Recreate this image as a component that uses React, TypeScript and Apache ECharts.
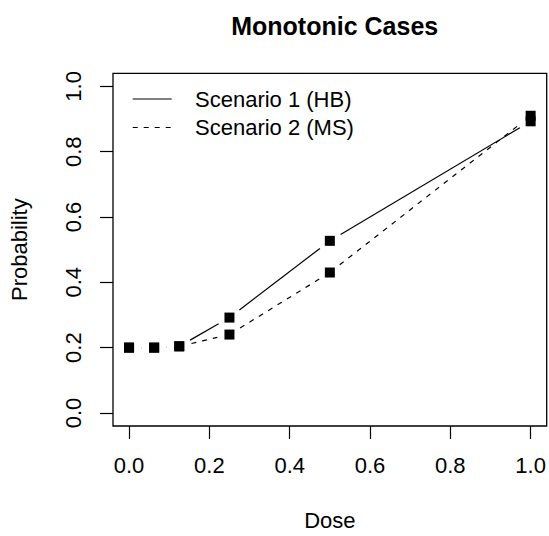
import React, { useEffect, useRef } from "react";
import * as echarts from "echarts";

const dose = [0, 0.0625, 0.125, 0.25, 0.5, 1.0];
const hbValues = [0.2, 0.2, 0.204, 0.292, 0.527, 0.893];
const msValues = [0.2, 0.2, 0.204, 0.24, 0.43, 0.91];
const tickValues = [0, 0.2, 0.4, 0.6, 0.8, 1.0];
const seriesNames = ["Scenario 1 (HB)", "Scenario 2 (MS)"];

const FONT = "Liberation Sans, Arial, Helvetica, sans-serif";
const GAP = 12.5;

function makeLineSeries(name: string, vals: number[], dash: number[] | null) {
  return {
    type: "custom",
    name,
    data: dose.map((d, i) => [d, vals[i]]),
    encode: { x: 0, y: 1 },
    silent: true,
    z: 2,
    renderItem: (params: any, api: any) => {
      const i = params.dataIndex;
      if (i === 0) return { type: "group", children: [] };
      const p0 = api.coord([dose[i - 1], vals[i - 1]]);
      const p1 = api.coord([dose[i], vals[i]]);
      const dx = p1[0] - p0[0];
      const dy = p1[1] - p0[1];
      const len = Math.hypot(dx, dy);
      if (len <= 2 * GAP) return { type: "group", children: [] };
      const ux = dx / len;
      const uy = dy / len;
      return {
        type: "line",
        shape: {
          x1: p0[0] + ux * GAP,
          y1: p0[1] + uy * GAP,
          x2: p1[0] - ux * GAP,
          y2: p1[1] - uy * GAP,
        },
        style: {
          stroke: "#000",
          lineWidth: 1.2,
          lineDash: dash || undefined,
          fill: null,
        },
      };
    },
  };
}

export default function App() {
  const ref = useRef<HTMLDivElement>(null);
  useEffect(() => {
    if (!ref.current) return;
    const chart = echarts.init(ref.current, undefined, { renderer: "svg" });
    const gridLeft = 112.7;
    const gridRight = 2.3;
    const gridTop = 73.3;
    const gridBottom = 109.3;
    const plotCenter = gridLeft + (549 - gridLeft - gridRight) / 2;
    chart.setOption({
      animation: false,
      backgroundColor: "#fff",
      textStyle: { fontFamily: FONT },
      title: {
        text: "Monotonic Cases",
        left: plotCenter,
        top: 8,
        textAlign: "center",
        textStyle: { fontFamily: FONT, fontWeight: "bold", fontSize: 25, color: "#000" },
      },
      grid: {
        left: gridLeft,
        right: gridRight,
        top: gridTop,
        bottom: gridBottom,
        show: true,
        borderColor: "#000",
        borderWidth: 1.3,
        backgroundColor: "transparent",
      },
      xAxis: {
        type: "value",
        min: -0.04,
        max: 1.04,
        name: "Dose",
        nameLocation: "middle",
        nameGap: 83,
        nameTextStyle: { fontFamily: FONT, fontSize: 22, color: "#000", verticalAlign: "top" },
        axisLine: { show: false, onZero: false },
        splitLine: { show: false },
        axisTick: { show: true, length: 13, customValues: tickValues, lineStyle: { color: "#000", width: 1.2 } },
        axisLabel: {
          customValues: tickValues,
          formatter: (v: number) => v.toFixed(1),
          fontFamily: FONT,
          fontSize: 22,
          color: "#000",
          margin: 28,
        },
      },
      yAxis: {
        type: "value",
        min: -0.04,
        max: 1.04,
        name: "Probability",
        nameLocation: "middle",
        nameRotate: 90,
        nameGap: 83,
        nameTextStyle: { fontFamily: FONT, fontSize: 22, color: "#000" },
        axisLine: { show: false, onZero: false },
        splitLine: { show: false },
        axisTick: { show: true, length: 13, customValues: tickValues, lineStyle: { color: "#000", width: 1.2 } },
        axisLabel: {
          customValues: tickValues,
          formatter: (v: number) => v.toFixed(1),
          rotate: 90,
          fontFamily: FONT,
          fontSize: 22,
          color: "#000",
          margin: 28.5,
        },
      },
      graphic: [
        {
          type: "line",
          shape: { x1: 132.7, y1: 99, x2: 171.7, y2: 99 },
          style: { stroke: "#000", lineWidth: 1.2 },
        },
        {
          type: "line",
          shape: { x1: 132.7, y1: 127.5, x2: 171.7, y2: 127.5 },
          style: { stroke: "#000", lineWidth: 1.2, lineDash: [5, 6] },
        },
        {
          type: "text",
          x: 195,
          y: 99,
          style: { text: seriesNames[0], font: `22px ${FONT}`, fill: "#000", verticalAlign: "middle" },
        },
        {
          type: "text",
          x: 195,
          y: 127.5,
          style: { text: seriesNames[1], font: `22px ${FONT}`, fill: "#000", verticalAlign: "middle" },
        },
      ],
      series: [
        makeLineSeries(seriesNames[0], hbValues, null),
        makeLineSeries(seriesNames[1], msValues, [5, 6]),
        {
          type: "scatter",
          name: "HB points",
          data: dose.map((d, i) => [d, hbValues[i]]),
          symbol: "rect",
          symbolSize: 10,
          itemStyle: { color: "#000", opacity: 1 },
          z: 3,
        },
        {
          type: "scatter",
          name: "MS points",
          data: dose.map((d, i) => [d, msValues[i]]),
          symbol: "rect",
          symbolSize: 10,
          itemStyle: { color: "#000", opacity: 1 },
          z: 3,
        },
      ],
    });
    return () => chart.dispose();
  }, []);
  return (
    <div
      ref={ref}
      style={{ position: "fixed", left: 0, top: 0, width: 549, height: 536 }}
    />
  );
}
